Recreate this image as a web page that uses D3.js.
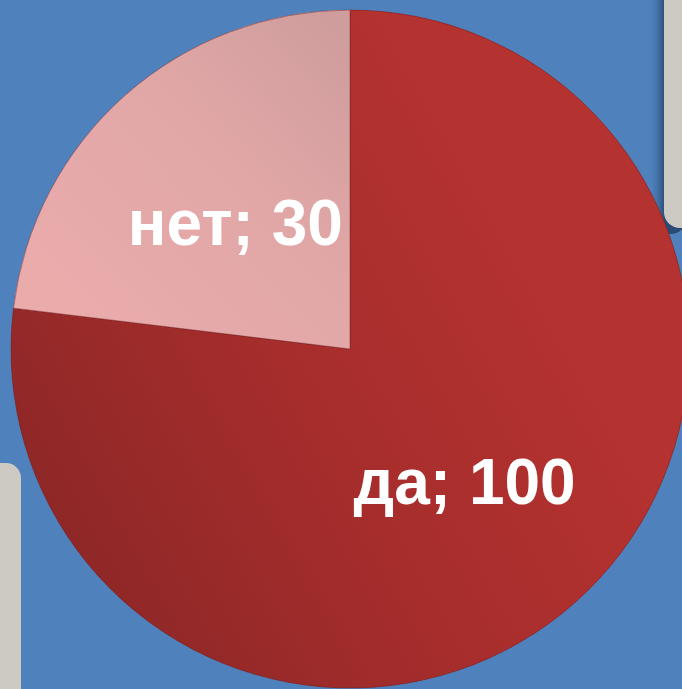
<!DOCTYPE html>
<html>
<head>
<meta charset="utf-8">
<script src="https://cdn.jsdelivr.net/npm/d3@7"></script>
<style>
html,body{margin:0;padding:0;background:#4f81bd;overflow:hidden;}
svg{display:block;}
</style>
</head>
<body>
<svg id="chart" width="682" height="689"></svg>
<script>
const categories = ["да", "нет"];
const values = [100, 30];
const sliceColors = ["#b03230", "#e8a9a9"];

const W = 682, H = 689;
const cx = 350, cy = 349, R = 339;

const svg = d3.select("#chart");
svg.append("rect").attr("width", W).attr("height", H).attr("fill", "#4f81bd");

const defs = svg.append("defs");
const gRed = defs.append("linearGradient").attr("id", "gRed")
  .attr("gradientUnits", "userSpaceOnUse")
  .attr("x1", 40 - cx).attr("y1", 620 - cy).attr("x2", 560 - cx).attr("y2", 330 - cy);
gRed.append("stop").attr("offset", "0").attr("stop-color", "#8a2626");
gRed.append("stop").attr("offset", "0.55").attr("stop-color", "#a52d2c");
gRed.append("stop").attr("offset", "1").attr("stop-color", "#b4322f");

const gPink = defs.append("linearGradient").attr("id", "gPink")
  .attr("gradientUnits", "userSpaceOnUse")
  .attr("x1", 60 - cx).attr("y1", 300 - cy).attr("x2", 340 - cx).attr("y2", 30 - cy);
gPink.append("stop").attr("offset", "0").attr("stop-color", "#eaabab");
gPink.append("stop").attr("offset", "0.6").attr("stop-color", "#e0a6a6");
gPink.append("stop").attr("offset", "1").attr("stop-color", "#cf9d9c");

const shadow = defs.append("linearGradient").attr("id", "gShadow")
  .attr("gradientUnits", "userSpaceOnUse")
  .attr("x1", 648).attr("x2", 665).attr("y1", 0).attr("y2", 0);
shadow.append("stop").attr("offset", "0").attr("stop-color", "#4f81bd").attr("stop-opacity", 0);
shadow.append("stop").attr("offset", "1").attr("stop-color", "#2a4a73").attr("stop-opacity", 1);

// side panels (background decoration)
svg.append("rect").attr("x", 648).attr("y", -30).attr("width", 40).attr("height", 264)
  .attr("rx", 18).attr("fill", "url(#gShadow)");
svg.append("rect").attr("x", 664).attr("y", -30).attr("width", 60).attr("height", 258)
  .attr("rx", 16).attr("fill", "#cdcac3");
svg.append("rect").attr("x", -40).attr("y", 463).attr("width", 61).attr("height", 260)
  .attr("rx", 15).attr("fill", "#cdcac3");

const pie = d3.pie().sort(null).value(d => d)
  .startAngle(0).endAngle(2 * Math.PI);
const arcs = pie(values);
const arc = d3.arc().innerRadius(0).outerRadius(R);
const labelArc = d3.arc().innerRadius(R * 0.51).outerRadius(R * 0.51);
const fills = ["url(#gRed)", "url(#gPink)"];

const g = svg.append("g").attr("transform", `translate(${cx},${cy})`);

g.selectAll("path.base").data(arcs).join("path")
  .attr("class", "base")
  .attr("d", arc)
  .attr("fill", (d, i) => sliceColors[i]);

g.selectAll("path.shade").data(arcs).join("path")
  .attr("class", "shade")
  .attr("d", arc)
  .attr("fill", (d, i) => fills[i])
  .attr("stroke", "#6e1f1f")
  .attr("stroke-opacity", 0.45)
  .attr("stroke-width", 1);

g.selectAll("text").data(arcs).join("text")
  .attr("transform", d => `translate(${labelArc.centroid(d)})`)
  .attr("text-anchor", "middle")
  .attr("dy", "0.4em")
  .attr("font-family", "'Liberation Sans', Arial, sans-serif")
  .attr("font-weight", "bold")
  .attr("font-size", 64)
  .attr("fill", "#ffffff")
  .text((d, i) => `${categories[i]}; ${values[i]}`);
</script>
</body>
</html>
